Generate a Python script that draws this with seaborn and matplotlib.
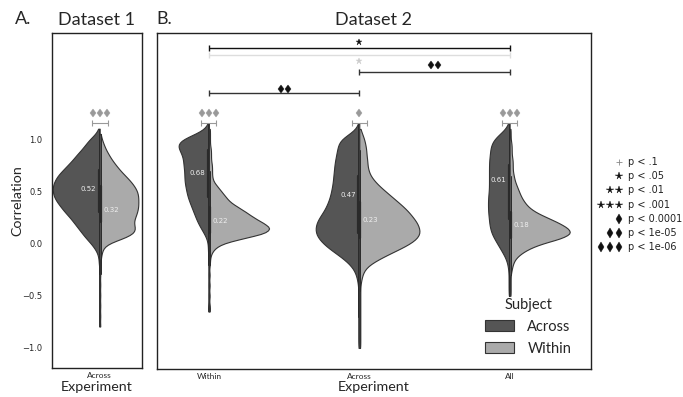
import numpy as np
import pandas as pd
import matplotlib
matplotlib.use("Agg")
import matplotlib.pyplot as plt
import matplotlib.transforms as mtransforms
from matplotlib.patches import Patch
import seaborn as sns

# correlation grid (descending) and counts
grid = [1.15, 1.10, 1.05, 1.00, 0.95, 0.90, 0.85, 0.80, 0.75, 0.70,
        0.65, 0.60, 0.55, 0.50, 0.45, 0.40, 0.35, 0.30, 0.25, 0.20,
        0.15, 0.10, 0.05, 0.00, -0.05, -0.10, -0.15, -0.20, -0.25, -0.30,
        -0.35, -0.40, -0.45, -0.50, -0.55, -0.60, -0.65, -0.70, -0.75, -0.80,
        -0.85, -0.90, -0.95, -1.00, -1.05]

d1_across = [0, 1, 4, 10, 14, 18, 23, 27, 32, 37,
             42, 45, 47, 47, 46, 43, 39, 35, 30, 26,
             22, 18, 14, 9, 5, 2, 1, 1, 0, 1,
             0, 1, 0, 1, 0, 1, 0, 1, 0, 1,
             0, 0, 0, 0, 0]
d1_within = [0, 0, 1, 2, 4, 6, 9, 12, 16, 20,
             25, 30, 34, 37, 38, 38, 38, 37, 35, 33,
             35, 35, 25, 8, 3, 2, 1, 1, 0, 1,
             0, 1, 0, 1, 0, 1, 0, 1, 0, 1,
             0, 0, 0, 0, 0]

within_across = [1, 3, 13, 28, 32, 29, 26, 25, 25, 24,
                 24, 24, 23, 22, 21, 19, 17, 15, 13, 11,
                 8, 5, 2, 1, 1, 1, 0, 1, 0, 1,
                 0, 1, 0, 1, 0, 1, 1, 0, 0, 0,
                 0, 0, 0, 0, 0]
within_within = [0, 1, 1, 1, 1, 2, 2, 2, 3, 3,
                 3, 4, 8, 12, 16, 20, 28, 36, 43, 52,
                 60, 55, 32, 12, 5, 2, 1, 1, 0, 1,
                 0, 1, 0, 1, 0, 1, 1, 0, 0, 0,
                 0, 0, 0, 0, 0]
across_across = [1, 2, 10, 20, 21, 22, 23, 24, 25, 25,
                 26, 26, 27, 28, 29, 31, 33, 36, 40, 43,
                 44, 44, 41, 36, 30, 22, 15, 9, 5, 3,
                 2, 1, 1, 1, 1, 1, 1, 1, 1, 1,
                 1, 1, 1, 1, 0]
across_within = [0, 1, 3, 5, 6, 7, 7, 8, 8, 9,
                 11, 15, 20, 26, 32, 38, 44, 49, 53, 57,
                 59, 60, 57, 50, 40, 29, 19, 10, 5, 3,
                 2, 1, 1, 1, 1, 1, 1, 1, 1, 1,
                 1, 1, 1, 1, 0]
all_across = [1, 3, 10, 16, 18, 19, 19, 20, 20, 20,
              20, 20, 20, 20, 21, 21, 21, 21, 20, 20,
              19, 18, 15, 12, 9, 6, 3, 2, 1, 1,
              1, 1, 1, 1, 0, 0, 0, 0, 0, 0,
              0, 0, 0, 0, 0]
all_within = [0, 1, 1, 1, 2, 2, 2, 3, 3, 3,
              4, 5, 7, 9, 11, 14, 18, 25, 36, 47,
              56, 60, 50, 30, 18, 10, 5, 3, 2, 1,
              1, 1, 1, 1, 0, 0, 0, 0, 0, 0,
              0, 0, 0, 0, 0]

experiments = ["Within", "Across", "All"]
subjects = ["Across", "Within"]
d1_means = [0.52, 0.32]
d2_across_means = [0.68, 0.47, 0.61]
d2_within_means = [0.22, 0.23, 0.18]

key_labels = ["p < .1", "p < .05", "p < .01", "p < .001",
              "p < 0.0001", "p < 1e-05", "p < 1e-06"]


def expand(counts, exp, subj):
    vals = np.repeat(grid, counts)
    return pd.DataFrame({"Experiment": exp, "Subject": subj, "Correlation": vals})


df1 = pd.concat([expand(d1_across, "Across", "Across"),
                 expand(d1_within, "Across", "Within")])
df2 = pd.concat([expand(within_across, "Within", "Across"),
                 expand(within_within, "Within", "Within"),
                 expand(across_across, "Across", "Across"),
                 expand(across_within, "Across", "Within"),
                 expand(all_across, "All", "Across"),
                 expand(all_within, "All", "Within")])

sns.set_style("white")
plt.rcParams["font.family"] = ["Lato", "DejaVu Sans"]

pal = {"Across": "#555555", "Within": "#aaaaaa"}
edge = "#333333"

fig = plt.figure(figsize=(6.83, 3.97), dpi=100)
ax1 = fig.add_axes([0.076, 0.073, 0.132, 0.844])
ax2 = fig.add_axes([0.230, 0.071, 0.635, 0.846])

vkw = dict(x="Experiment", y="Correlation", hue="Subject", hue_order=subjects,
           split=True, palette=pal, cut=0, bw_adjust=0.5, inner="box",
           common_norm=True, linewidth=0.8, linecolor=edge, legend=False,
           inner_kws=dict(box_width=1.6, whis_width=0.7, markersize=0, color="#2a2a2a"))
sns.violinplot(data=df1, ax=ax1, width=1.04, density_norm="count", **vkw)
# each experiment scaled on its own, so both halves of a violin share their area
for exp in experiments:
    sns.violinplot(data=df2[df2["Experiment"] == exp], ax=ax2, order=experiments,
                   width=0.8, density_norm="area", **vkw)

for ax in (ax1, ax2):
    ax.set_ylim(-1.2, 2.02)
    for s in ax.spines.values():
        s.set_color("#222222")
        s.set_linewidth(1)
    ax.tick_params(axis="x", length=2, labelsize=6, pad=1)
    ax.set_xlabel("Experiment", fontsize=10.3, labelpad=1)
ax1.set_xlim(-0.53, 0.47)
ax2.set_xlim(-0.345, 2.54)
ax1.set_yticks([-1.0, -0.5, 0.0, 0.5, 1.0])
ax1.tick_params(axis="y", length=0, labelsize=6, pad=7)
for t in ax1.get_yticklabels():
    t.set_family("DejaVu Sans")
ax1.set_ylabel("Correlation", fontsize=10.3, labelpad=-1)
ax2.set_yticks([])
ax2.set_ylabel("")
ax1.set_title("Dataset 1", fontsize=13, pad=6)
ax2.set_title("Dataset 2", fontsize=13, pad=6)
fig.text(0.034, 0.952, "A.", fontsize=13, ha="center", va="center")
fig.text(0.240, 0.952, "B.", fontsize=13, ha="center", va="center")


def marks(ax, x, y, marker, n, color, ms):
    step = 5.0
    for i in range(n):
        dx = (i - (n - 1) / 2) * step
        t = mtransforms.offset_copy(ax.transData, fig=fig, x=dx, y=0, units="points")
        ax.plot([x], [y], marker=marker, color=color, ms=ms, mew=0.3,
                transform=t, clip_on=False, linestyle="none")


def bracket(ax, x1, x2, y, color, lw=1.0):
    ax.plot([x1, x2], [y, y], color=color, lw=lw, marker="|", ms=4, mew=lw,
            solid_capstyle="butt")


def value_labels(ax, xs, across, within):
    for x, a, w in zip(xs, across, within):
        ax.annotate(f"{a:.2f}", (x, a), xytext=(-2.5, 0), textcoords="offset points",
                    ha="right", va="center", fontsize=5, color="#eeeeee",
                    family="DejaVu Sans")
        ax.annotate(f"{w:.2f}", (x, w), xytext=(2.5, 0), textcoords="offset points",
                    ha="left", va="center", fontsize=5, color="#eeeeee",
                    family="DejaVu Sans")


value_labels(ax1, [0], [d1_means[0]], [d1_means[1]])
value_labels(ax2, [0, 1, 2], d2_across_means, d2_within_means)

# within-condition comparisons
bracket(ax1, -0.09, 0.09, 1.15, "#999999", lw=0.8)
marks(ax1, 0, 1.25, "d", 3, "#999999", 4.5)
for x, n in zip([0, 1, 2], [3, 1, 3]):
    bracket(ax2, x - 0.05, x + 0.05, 1.16, "#999999", lw=0.8)
    marks(ax2, x, 1.25, "d", n, "#999999", 4.5)

# between-experiment comparisons
bracket(ax2, 0, 2, 1.88, "#111111")
marks(ax2, 1, 1.93, "*", 1, "#111111", 4.6)
bracket(ax2, 0, 2, 1.81, "#dddddd")
marks(ax2, 1, 1.75, "*", 1, "#cccccc", 4.6)
bracket(ax2, 1, 2, 1.65, "#333333")
marks(ax2, 1.5, 1.71, "d", 2, "#111111", 4.5)
bracket(ax2, 0, 1, 1.44, "#333333")
marks(ax2, 0.5, 1.48, "d", 2, "#111111", 4.5)

handles = [Patch(facecolor=pal[s], edgecolor=edge, linewidth=0.8) for s in subjects]
ax2.legend(handles, subjects, title="Subject", loc="lower right",
           bbox_to_anchor=(0.985, 0.0), frameon=False, fontsize=10.5,
           title_fontsize=10.5, handlelength=2.0, handleheight=0.75,
           labelspacing=0.55, handletextpad=0.9)

# significance key
key_marks = [("+", 1, "#888888", 5, 0.6), ("*", 1, "#111111", 5.5, 0.3),
             ("*", 2, "#111111", 5.5, 0.3), ("*", 3, "#111111", 5.5, 0.3),
             ("d", 1, "#111111", 5.5, 0.3), ("d", 2, "#111111", 5.5, 0.3),
             ("d", 3, "#111111", 5.5, 0.3)]
for i, (lab, (m, n, c, ms, mw)) in enumerate(zip(key_labels, key_marks)):
    y = 1 - (162 + i * 14.2) / 397
    fig.text(0.919, y, lab, fontsize=7, va="center", ha="left",
             family="DejaVu Sans", color="#222222")
    for j in range(n):
        t = mtransforms.offset_copy(fig.transFigure, fig=fig,
                                    x=-j * 6.5, y=0, units="points")
        fig.lines.append(plt.Line2D([0.906], [y], marker=m, color=c, ms=ms,
                                    mew=mw, transform=t, linestyle="none"))

fig.savefig("out.png", dpi=100)
